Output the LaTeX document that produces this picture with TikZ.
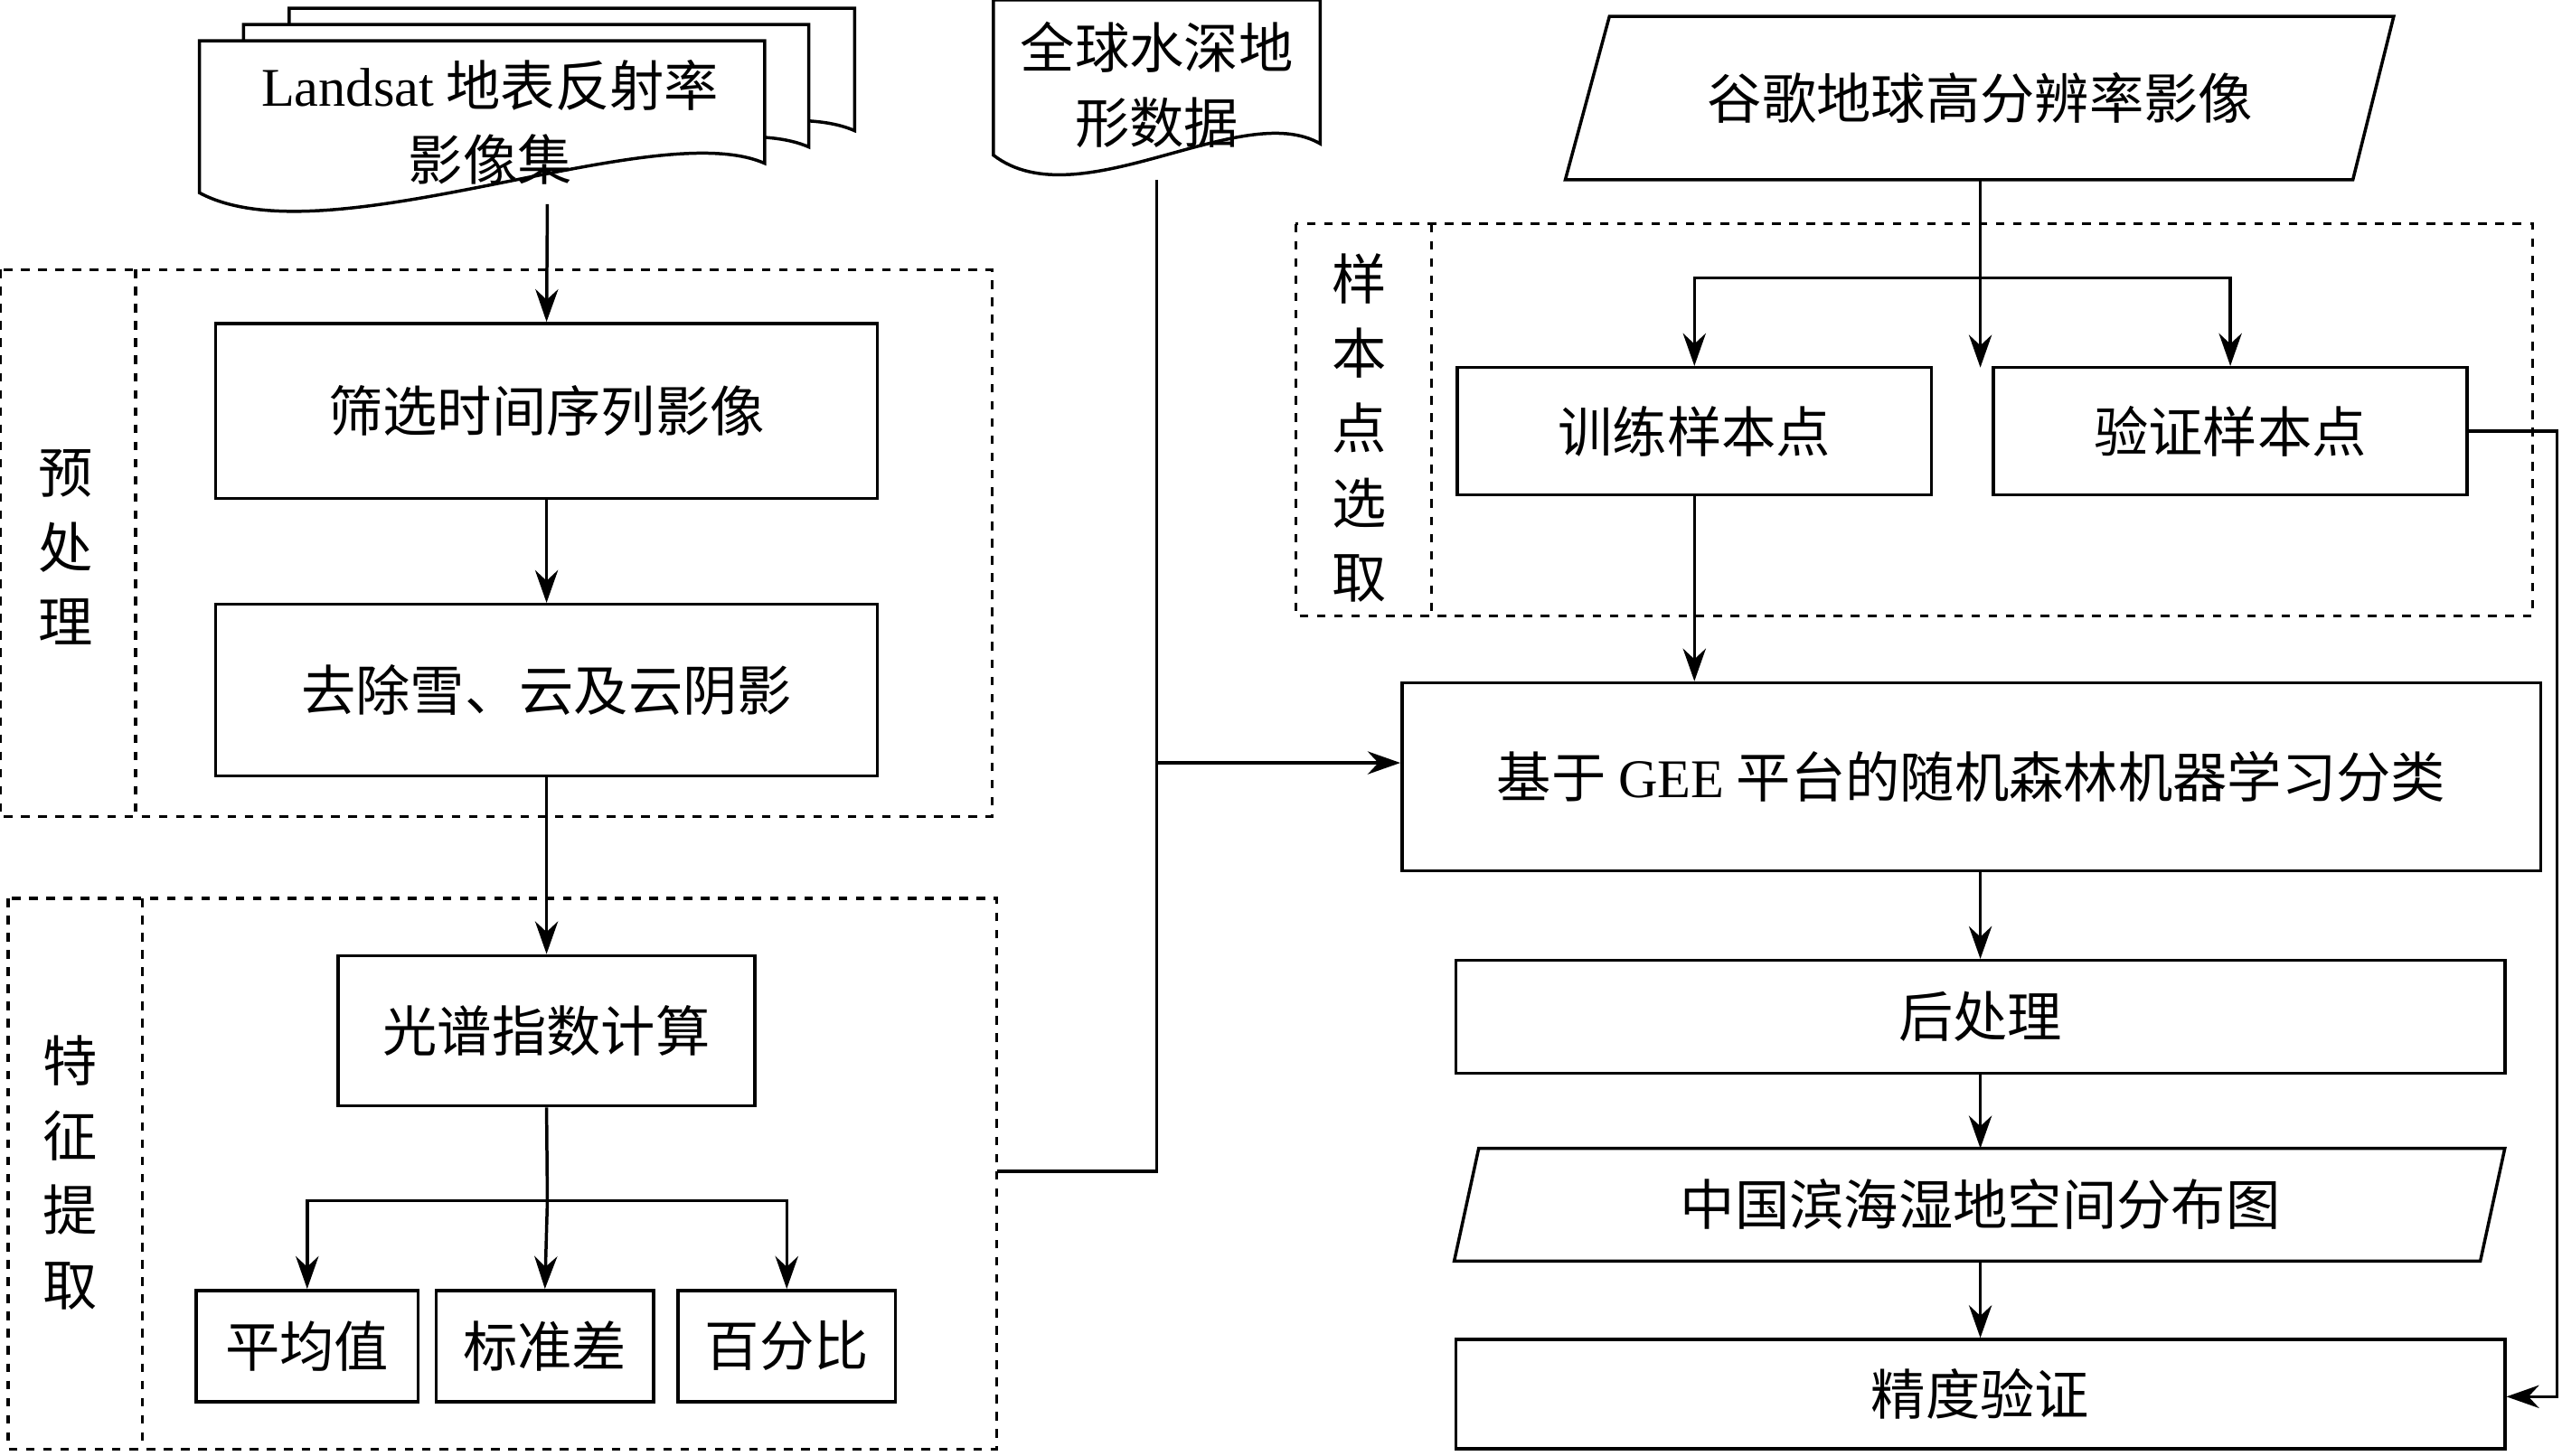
\documentclass[tikz,border=0pt]{standalone}
\usepackage{fontspec}
\setmainfont{Liberation Serif}
\newfontfamily\cjk{Noto Sans CJK SC}
\usetikzlibrary{arrows.meta,shapes.geometric,calc}
\begin{document}
\begin{tikzpicture}[x=0.02cm,y=-0.02cm,line width=1.1pt,
  font=\cjk\fontsize{19}{26}\selectfont,
  box/.style={draw,rectangle,inner sep=0pt},
  dbox/.style={draw,dashed,line width=1pt},
  arr/.style={-{Stealth[length=4mm,width=2.8mm]}},
  lab/.style={align=center,inner sep=0pt}]
\useasboundingbox (0,0) rectangle (1568,891);
% Landsat multidocument
\foreach \dx/\dy in {55/-20,27/-10,0/0}{
  \filldraw[fill=white] (122+\dx,25+\dy) -- (468+\dx,25+\dy) -- (468+\dx,100+\dy)
    .. controls (400+\dx,70+\dy) and (200+\dx,160+\dy) .. (122+\dx,118+\dy) -- cycle;}
\node[lab] (landsat) at (300,75) {{\rmfamily Landsat} 地表反射率\\影像集};
% bathymetry document
\draw (608,0) -- (808,0) -- (808,88) .. controls (760,60) and (660,135) .. (608,95) -- cycle;
\node[lab] (bathy) at (708,52) {全球水深地\\形数据};
\coordinate (bb) at (708,110);
% google parallelogram
\draw (985,10) -- (1465,10) -- (1440,110) -- (958,110) -- cycle;
\node (google) at (1212,60) {谷歌地球高分辨率影像};
\coordinate (gb) at (1212,110);
% dashed groups
\draw[dbox] (0,165) rectangle (607,500); \draw[dbox] (83,165) -- (83,500);
\node[lab] (pre) at (40,335) {预\\处\\理};
\draw[dbox] (5,550) rectangle (610,887); \draw[dbox] (87,550) -- (87,887);
\node[lab] (feat) at (43,718) {特\\征\\提\\取};
\draw[dbox] (793,137) rectangle (1550,377); \draw[dbox] (876,137) -- (876,377);
\node[lab] (samp) at (832,262) {样\\本\\点\\选\\取};
% boxes
\node[box,minimum width=405*0.02cm,minimum height=107*0.02cm] (sel) at (334.5,251.5) {筛选时间序列影像};
\node[box,minimum width=405*0.02cm,minimum height=105*0.02cm] (rem) at (334.5,422.5) {去除雪、云及云阴影};
\node[box,minimum width=255*0.02cm,minimum height=92*0.02cm] (spec) at (334.5,631) {光谱指数计算};
\node[box,minimum width=136*0.02cm,minimum height=68*0.02cm] (mean) at (188,824) {平均值};
\node[box,minimum width=133*0.02cm,minimum height=68*0.02cm] (std) at (333.5,824) {标准差};
\node[box,minimum width=133*0.02cm,minimum height=68*0.02cm] (pct) at (481.5,824) {百分比};
\node[box,minimum width=290*0.02cm,minimum height=78*0.02cm] (train) at (1037,264) {训练样本点};
\node[box,minimum width=290*0.02cm,minimum height=78*0.02cm] (valid) at (1365,264) {验证样本点};
\node[box,minimum width=697*0.02cm,minimum height=115*0.02cm] (gee) at (1206.5,475.5) {基于 {\rmfamily GEE} 平台的随机森林机器学习分类};
\node[box,minimum width=642*0.02cm,minimum height=69*0.02cm] (post) at (1212,622.5) {后处理};
\draw (905,703) -- (1533,703) -- (1518,772) -- (890,772) -- cycle;
\node (map) at (1212,737.5) {中国滨海湿地空间分布图};
\node[box,minimum width=642*0.02cm,minimum height=67*0.02cm] (acc) at (1212,853.5) {精度验证};
% connectors
\draw[arr] (335,125) -- (sel.north);
\draw[arr] (sel) -- (rem);
\draw[arr] (rem) -- (spec);
\coordinate (fj) at (335,735);
\draw (spec.south) -- (fj);
\draw[arr] (fj) -| (mean.north);
\draw[arr] (fj) -- (std.north);
\draw[arr] (fj) -| (pct.north);
\coordinate (bj) at (708,467);
\coordinate (fe) at (610,717);
\draw (bb) -- (708,717) -- (fe);
\draw[arr] (bj) -- (gee.west |- bj);
\coordinate (gj) at (1212,170);
\draw[arr] (gb) -- (1212,225);
\draw[arr] (gj) -| (train.north);
\draw[arr] (gj) -| (valid.north);
\draw[arr] (train.south) -- (train.south |- gee.north);
\draw[arr] (gee.south -| post.north) -- (post.north);
\draw[arr] (post.south) -- (1212,703);
\draw[arr] (1212,772) -- (acc.north);
\draw[arr] (valid.east) -- (1565,264) -- (1565,855) -- (acc.east |- 0,855);
\end{tikzpicture}
\end{document}
